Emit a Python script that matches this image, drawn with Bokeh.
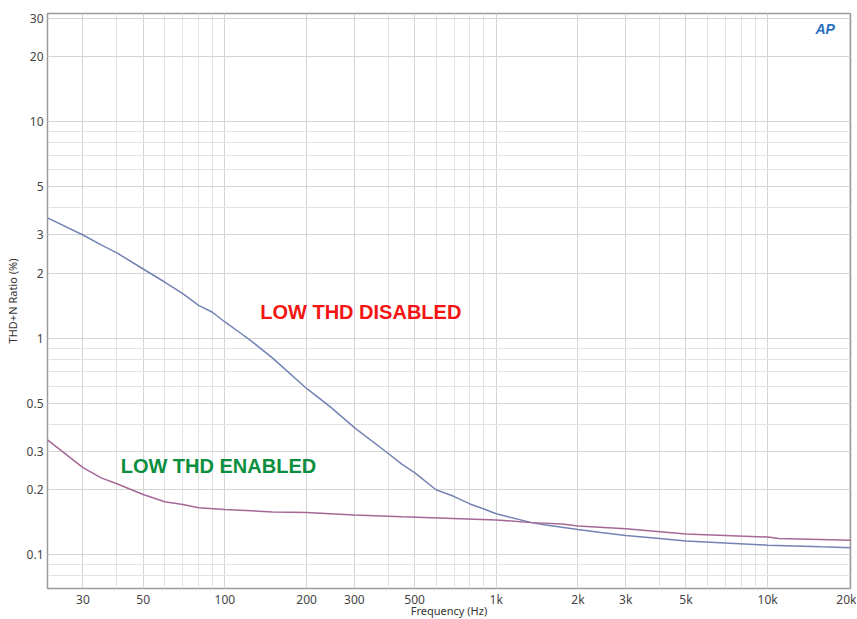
from bokeh.plotting import figure
from bokeh.models import FixedTicker, CustomJSTickFormatter, Label, Range1d
from bokeh.embed import file_html
from bokeh.resources import INLINE

# ---- data ----
freq_disabled = [22.2, 30, 35, 40, 50, 60, 70, 80, 90, 100, 115, 128, 150, 200, 246, 300,
                 400, 450, 500, 600, 700, 800, 900, 1000, 1350, 1500, 2000, 2430, 3000,
                 4000, 5000, 10000, 15700, 20200]
thd_disabled = [3.6, 3.0, 2.7, 2.48, 2.09, 1.82, 1.61, 1.42, 1.32, 1.19, 1.05, 0.95, 0.81,
                0.587, 0.48, 0.387, 0.294, 0.262, 0.24, 0.2, 0.186, 0.172, 0.163, 0.155,
                0.141, 0.138, 0.131, 0.127, 0.123, 0.119, 0.116, 0.111, 0.109, 0.108]

freq_enabled = [22.2, 30, 35, 40, 50, 60, 70, 80, 100, 150, 200, 300, 450, 1000, 1350,
                1750, 2000, 3000, 5000, 10000, 11000, 20200]
thd_enabled = [0.34, 0.253, 0.227, 0.213, 0.19, 0.176, 0.171, 0.165, 0.162, 0.158, 0.157,
               0.153, 0.15, 0.145, 0.141, 0.139, 0.136, 0.132, 0.125, 0.121, 0.119, 0.117]

x_major = [30, 50, 100, 200, 300, 500, 1000, 2000, 3000, 5000, 10000, 20000]
x_minor = [40, 60, 70, 80, 90, 400, 600, 700, 800, 900, 4000, 6000, 7000, 8000, 9000]
y_major = [0.1, 0.2, 0.3, 0.5, 1, 2, 3, 5, 10, 20, 30]
y_minor = [0.07, 0.08, 0.09, 0.4, 0.6, 0.7, 0.8, 0.9, 4, 6, 7, 8, 9]

label_disabled = "LOW THD DISABLED"
label_enabled = "LOW THD ENABLED"
logo_text = "AP"

p = figure(frame_width=803, frame_height=575, x_axis_type="log", y_axis_type="log",
           x_range=Range1d(22.2, 20200), y_range=Range1d(0.07, 31.6),
           output_backend="svg", toolbar_location=None,
           min_border_left=47, min_border_right=6, min_border_top=13, min_border_bottom=30,
           background_fill_color="white", border_fill_color="white")

p.outline_line_color = "#9a9a9a"
p.outline_line_width = 1.5

p.xaxis.ticker = FixedTicker(ticks=x_major, minor_ticks=x_minor)
p.yaxis.ticker = FixedTicker(ticks=y_major, minor_ticks=y_minor)
p.xaxis.formatter = CustomJSTickFormatter(code="return tick >= 1000 ? (tick/1000) + 'k' : String(tick);")
p.yaxis.formatter = CustomJSTickFormatter(code="return String(tick);")

for ax in (p.xaxis, p.yaxis):
    ax.axis_line_color = None
    ax.major_tick_line_color = None
    ax.minor_tick_line_color = None
    ax.major_tick_out = 0
    ax.major_tick_in = 0
    ax.minor_tick_out = 0
    ax.minor_tick_in = 0
    ax.major_label_text_font = "Noto Sans"
    ax.major_label_text_font_size = "12px"
    ax.major_label_text_color = "#444444"
    ax.axis_label_text_font = "Noto Sans"
    ax.axis_label_text_font_size = "11px"
    ax.axis_label_text_font_style = "normal"
    ax.axis_label_text_color = "#333333"

p.xaxis.axis_label = "Frequency (Hz)"
p.yaxis.axis_label = "THD+N Ratio (%)"
p.xaxis.major_label_standoff = 2
p.xaxis.axis_label_standoff = -8
p.yaxis.major_label_standoff = 4
p.yaxis.axis_label_standoff = 4

p.xgrid.grid_line_color = "#d4d4d4"
p.ygrid.grid_line_color = "#d4d4d4"
p.xgrid.minor_grid_line_color = "#e3e3e3"
p.ygrid.minor_grid_line_color = "#e3e3e3"

p.line(freq_disabled, thd_disabled, line_color="#7483b4", line_width=1.5)
p.line(freq_enabled, thd_enabled, line_color="#a46896", line_width=1.5)

p.add_layout(Label(x=135, y=1.32, text=label_disabled, text_color="#f41414",
                   text_font="Liberation Sans", text_font_style="bold",
                   text_font_size="20px", text_baseline="middle"))
p.add_layout(Label(x=41.3, y=0.258, text=label_enabled, text_color="#0b8f3e",
                   text_font="Liberation Sans", text_font_style="bold",
                   text_font_size="20px", text_baseline="middle"))

p.add_layout(Label(x=15000, y=26.8, text=logo_text,
                   text_color="#2a70c0", text_font="Liberation Sans",
                   text_font_style="bold italic", text_font_size="14px",
                   text_baseline="middle"))

open("out.html", "w").write(file_html(p, INLINE))
